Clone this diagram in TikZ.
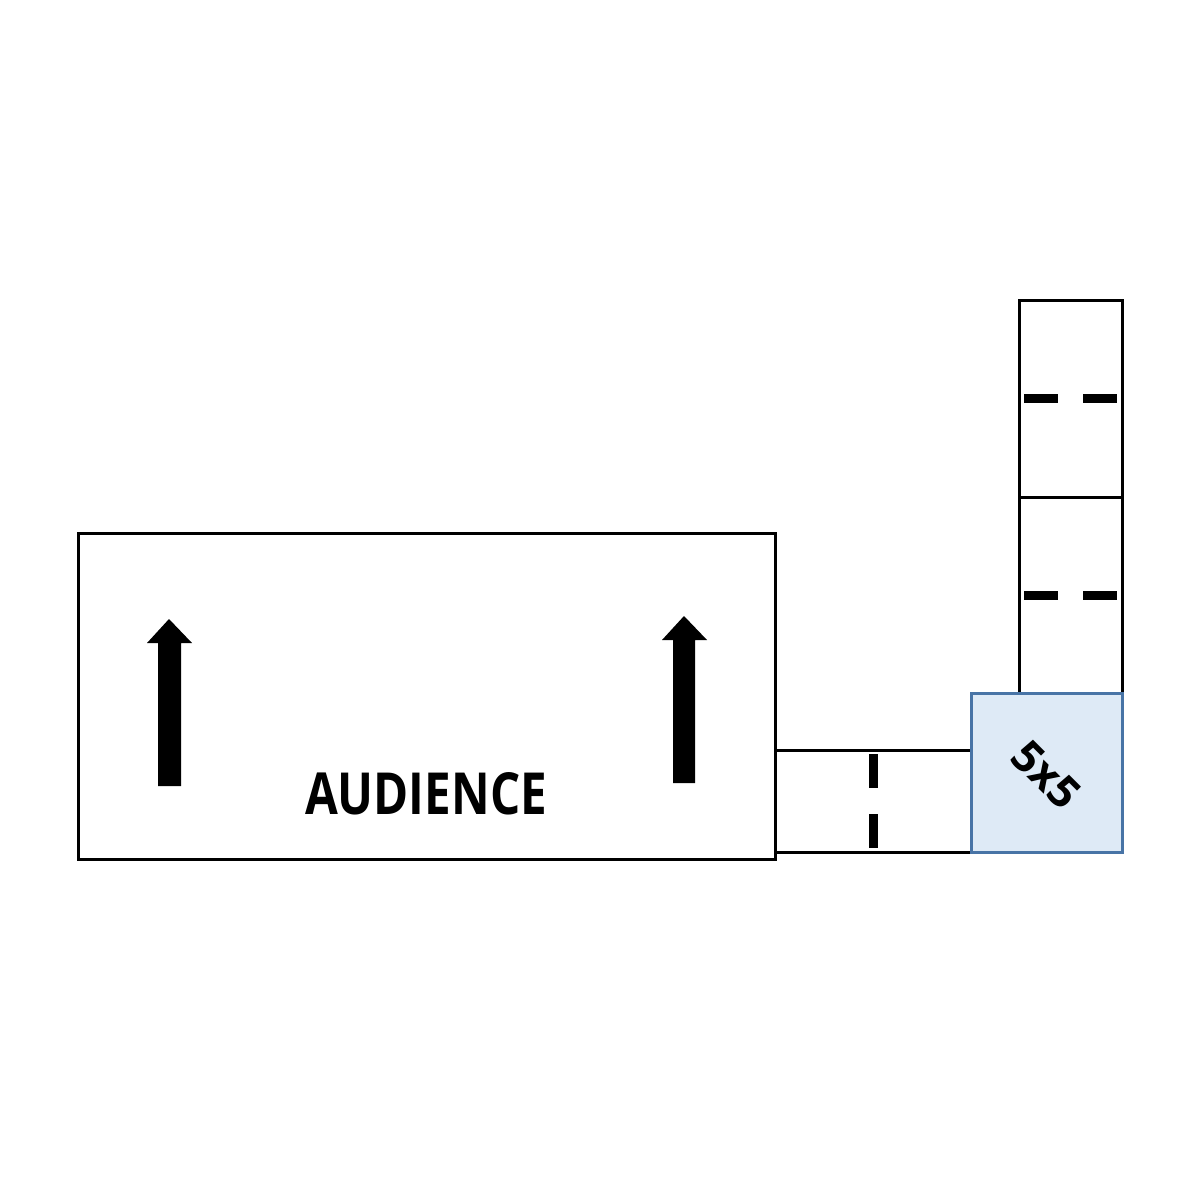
\documentclass[tikz,border=0pt]{standalone}
\usepackage{fontspec}
\setmainfont{Open Sans}
\definecolor{stageblue}{RGB}{222,234,246}
\definecolor{stageline}{RGB}{72,116,166}
\tikzset{
	platform/.style={draw,line width=0.3mm,inner sep=0,outer sep=0,anchor=north west},
	tape/.style={line width=0.9mm},
}
\begin{document}
\begin{tikzpicture}[x=0.1mm,y=-0.1mm]
	\useasboundingbox (0,0) rectangle (1200,1200);
	\node (audience) [platform,minimum width=69.7mm,minimum height=32.6mm] at (78,533) {};
	\node (walkway) [platform,minimum width=19.6mm,minimum height=10.2mm] at (775,750) {};
	\node (riserA) [platform,minimum width=10.3mm,minimum height=19.7mm] at (1019,300) {};
	\node (riserB) [platform,minimum width=10.3mm,minimum height=19.6mm] at (1019,497) {};
	\node (stage) [platform,draw=stageline,fill=stageblue,minimum width=15.1mm,minimum height=15.9mm] at (971,693) {};
	\node (label) at (426,794) {\fontsize{16.5pt}{18pt}\bfseries\scalebox{0.82}[1]{AUDIENCE}};
	\node (size) [rotate=-45] at (1046,775) {\fontsize{12.5pt}{14pt}\bfseries 5x5};
	% arrows
	\fill (158,786) -- (158,643) -- (147,643) -- (169,619) -- (192,643) -- (181,643) -- (181,786) -- cycle;
	\fill (673,783) -- (673,640) -- (662,640) -- (684,616) -- (707,640) -- (695,640) -- (695,783) -- cycle;
	% tape marks
	\draw [tape] (873,754) -- (873,788);
	\draw [tape] (873,814) -- (873,848);
	\draw [tape] (1024,398) -- (1058,398);
	\draw [tape] (1083,398) -- (1117,398);
	\draw [tape] (1024,595) -- (1058,595);
	\draw [tape] (1083,595) -- (1117,595);
\end{tikzpicture}
\end{document}
